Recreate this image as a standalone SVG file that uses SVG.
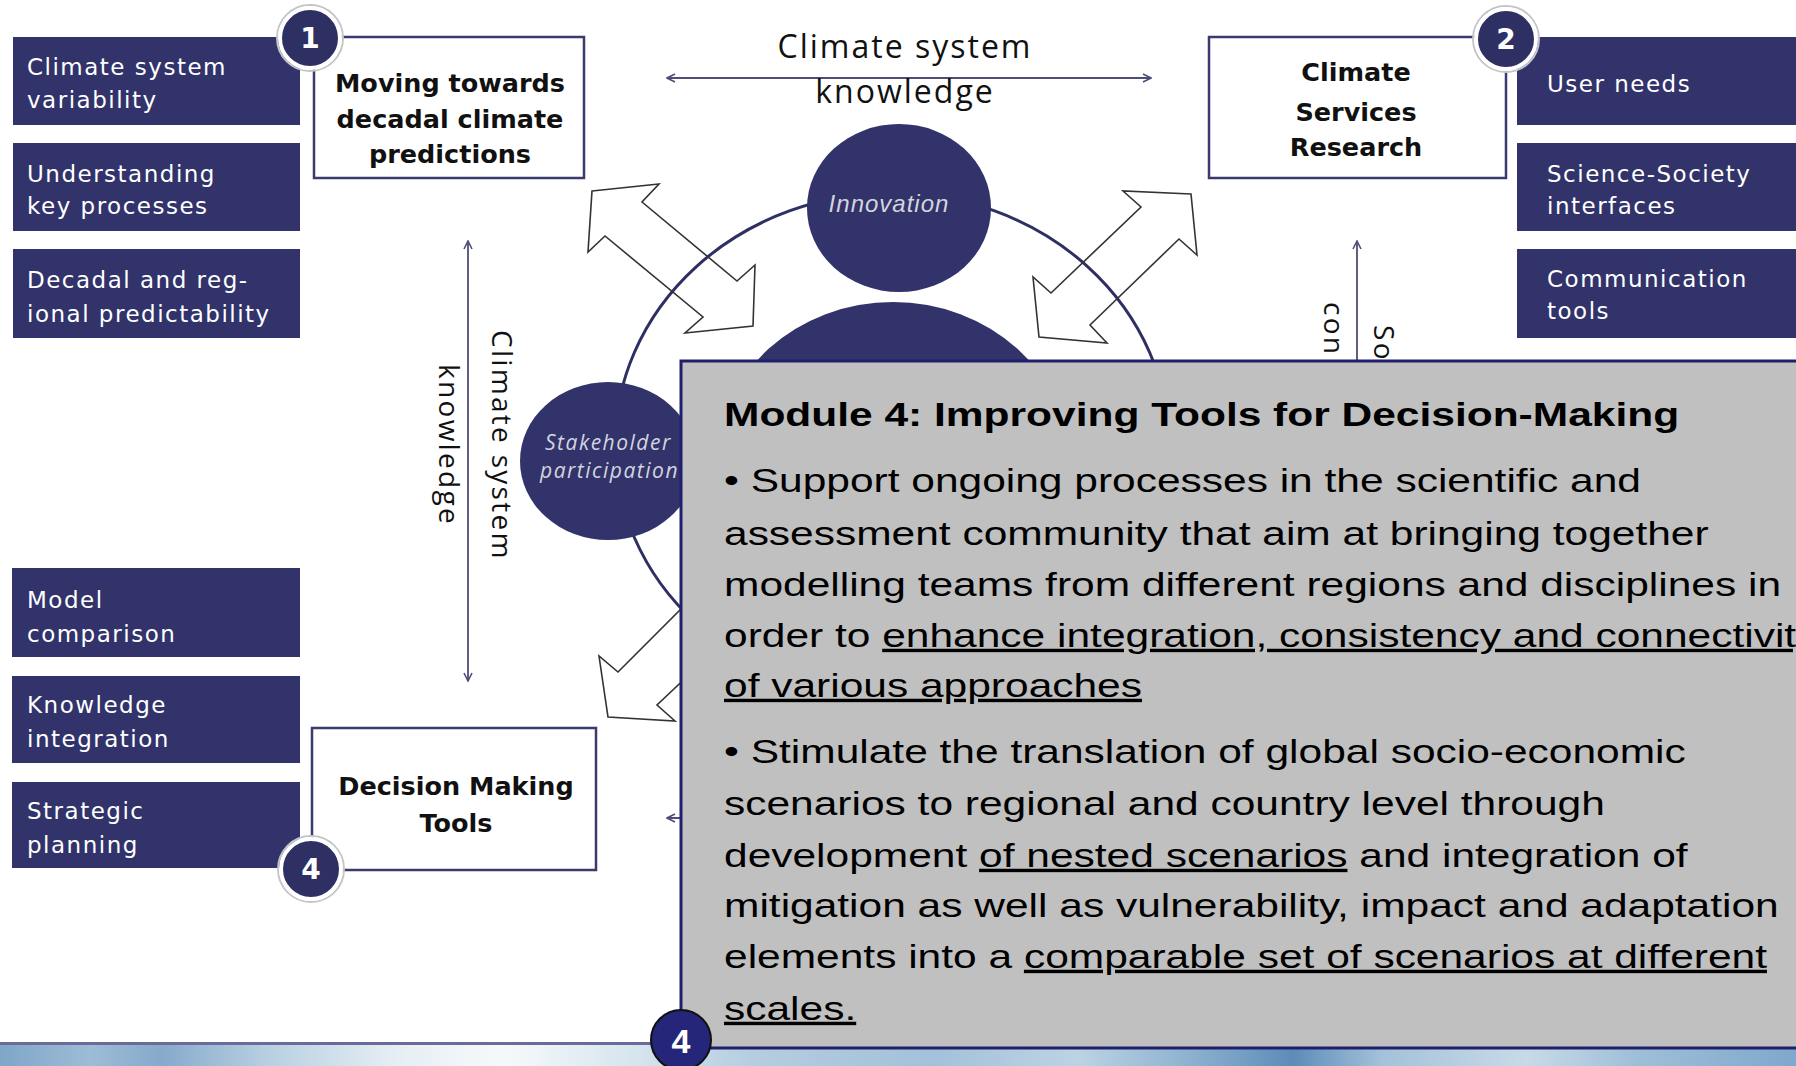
<svg xmlns="http://www.w3.org/2000/svg" width="1796" height="1066" viewBox="0 0 1796 1066">
<defs>
<style>
.nb{fill:#31336a}
.nt{font-family:"DejaVu Sans",sans-serif;font-size:23px;fill:#fff;letter-spacing:1.5px}
.wb{fill:#fff;stroke:#3a3a6e;stroke-width:2.5}
.wt{font-family:"DejaVu Sans",sans-serif;font-weight:bold;font-size:25.5px;fill:#111;text-anchor:middle}
.badge{fill:#2e3064;stroke:#fff;stroke-width:4}
.bshadow{fill:none;stroke:#c4c4cc;stroke-width:2}
.bt{font-family:"DejaVu Sans",sans-serif;font-weight:bold;font-size:28px;fill:#fff;text-anchor:middle}
.ring{fill:none;stroke:#2e3064;stroke-width:3}
.circ{fill:#31336a}
.ci{font-style:italic;fill:#d4d4de}
.conn{fill:none;stroke:#4e4e78;stroke-width:1.8}
.blk{fill:none;stroke:#333;stroke-width:1.6;stroke-linejoin:miter}
.lbl{font-family:"Open Sans",sans-serif;fill:#111}
.gt{font-family:"Liberation Sans",Arial,sans-serif;font-size:34px;fill:#000}
.u{text-decoration:underline;text-decoration-thickness:3px}
</style>
<marker id="ah" viewBox="0 0 10 10" refX="9" refY="5" markerWidth="10" markerHeight="10" markerUnits="userSpaceOnUse" orient="auto-start-reverse">
<path d="M1,1 L9,5 L1,9" fill="none" stroke="#4e4e78" stroke-width="1.6"/>
</marker>
<linearGradient id="band" x1="0" y1="0" x2="1" y2="0">
<stop offset="0" stop-color="#7fa6c8"/>
<stop offset="0.05" stop-color="#9dbcd6"/>
<stop offset="0.09" stop-color="#86aacb"/>
<stop offset="0.15" stop-color="#b8d0e2"/>
<stop offset="0.22" stop-color="#e6eef4"/>
<stop offset="0.28" stop-color="#f6f9fb"/>
<stop offset="0.35" stop-color="#d8e6ef"/>
<stop offset="0.42" stop-color="#b4cde0"/>
<stop offset="0.52" stop-color="#a3c1da"/>
<stop offset="0.6" stop-color="#bcd3e4"/>
<stop offset="0.66" stop-color="#8fb3d0"/>
<stop offset="0.72" stop-color="#5d8cb8"/>
<stop offset="0.77" stop-color="#a4c2da"/>
<stop offset="0.85" stop-color="#c8dae8"/>
<stop offset="0.91" stop-color="#9fbfd8"/>
<stop offset="1" stop-color="#7fa8cc"/>
</linearGradient>
</defs>

<rect x="0" y="0" width="1796" height="1066" fill="#fff"/>

<!-- bottom band -->
<rect x="0" y="1043" width="1796" height="23" fill="url(#band)"/>
<line x1="0" y1="1043.5" x2="700" y2="1043.5" stroke="#6b6b9b" stroke-width="3"/>

<!-- ring -->
<ellipse class="ring" cx="892" cy="445" rx="277" ry="252"/>

<!-- connectors -->
<g id="connectors">
<path class="conn" d="M667,78 L1151,78" marker-start="url(#ah)" marker-end="url(#ah)"/>
<path class="conn" d="M468,241 L468,681" marker-start="url(#ah)" marker-end="url(#ah)"/>
<path class="conn" d="M1357,400 L1357,241" marker-end="url(#ah)"/>
<path class="conn" d="M700,818 L667,818" marker-end="url(#ah)"/>
<polygon class="blk" points="592,191 659,184 642,202 737,281 755,265 753,326 685,333 703,317 605,236 588,252"/>
<polygon class="blk" points="1191,194 1123,191 1141,207 1051,293 1033,277 1039,337 1107,343 1090,325 1179,239 1197,255"/>
<polygon class="blk" points="618,672 760,530 800,570 657,705 675,721 608,717 599,656"/>
</g>

<!-- connector labels -->
<g id="labels">
<text class="lbl" x="905" y="58" font-size="32" letter-spacing="2" text-anchor="middle">Climate system</text>
<text class="lbl" x="905" y="103" font-size="32" letter-spacing="2" text-anchor="middle">knowledge</text>
<text class="lbl" font-size="28" letter-spacing="2.3" transform="translate(492,330) rotate(90)">Climate system</text>
<text class="lbl" font-size="28" letter-spacing="2.3" transform="translate(439,364) rotate(90)">knowledge</text>
<text class="lbl" font-size="28" letter-spacing="2.3" transform="translate(1374,325) rotate(90)">So</text>
<text class="lbl" font-size="28" letter-spacing="2.3" transform="translate(1324,302) rotate(90)">con</text>
</g>

<!-- circles -->
<g id="innovation">
<ellipse class="circ" cx="899" cy="208" rx="92" ry="84"/>
<text class="ci" x="889" y="212" font-family="Liberation Sans, sans-serif" font-size="24" letter-spacing="1" text-anchor="middle">Innovation</text>
</g>
<g id="core">
<ellipse class="circ" cx="893" cy="462" rx="176" ry="160"/>
</g>
<g id="stakeholder">
<ellipse class="circ" cx="608" cy="461" rx="88" ry="79"/>
<text class="ci" x="545" y="450" font-family="Open Sans, sans-serif" font-size="21" letter-spacing="1.5">Stakeholder</text>
<text class="ci" x="540" y="478" font-family="Open Sans, sans-serif" font-size="21" letter-spacing="1.5">participation</text>
</g>

<!-- left navy boxes -->
<g id="l1"><rect class="nb" x="13" y="37" width="287" height="88"/><text class="nt" x="27" y="75">Climate system</text><text class="nt" x="27" y="108">variability</text></g>
<g id="l2"><rect class="nb" x="13" y="143" width="287" height="88"/><text class="nt" x="27" y="182">Understanding</text><text class="nt" x="27" y="214">key processes</text></g>
<g id="l3"><rect class="nb" x="13" y="249" width="287" height="89"/><text class="nt" x="27" y="288">Decadal and reg-</text><text class="nt" x="27" y="322">ional predictability</text></g>
<g id="l4"><rect class="nb" x="12" y="568" width="288" height="89"/><text class="nt" x="27" y="608">Model</text><text class="nt" x="27" y="642">comparison</text></g>
<g id="l5"><rect class="nb" x="12" y="676" width="288" height="87"/><text class="nt" x="27" y="713">Knowledge</text><text class="nt" x="27" y="747">integration</text></g>
<g id="l6"><rect class="nb" x="12" y="782" width="288" height="86"/><text class="nt" x="27" y="819">Strategic</text><text class="nt" x="27" y="853">planning</text></g>

<!-- right navy boxes -->
<g id="r1"><rect class="nb" x="1517" y="37" width="290" height="88"/><text class="nt" x="1547" y="92">User needs</text></g>
<g id="r2"><rect class="nb" x="1517" y="143" width="290" height="88"/><text class="nt" x="1547" y="182">Science-Society</text><text class="nt" x="1547" y="214">interfaces</text></g>
<g id="r3"><rect class="nb" x="1517" y="249" width="290" height="89"/><text class="nt" x="1547" y="287">Communication</text><text class="nt" x="1547" y="319">tools</text></g>

<!-- white module boxes -->
<g id="m1"><rect class="wb" x="314" y="37" width="270" height="141"/>
<text class="wt" x="450" y="92">Moving towards</text><text class="wt" x="450" y="128">decadal climate</text><text class="wt" x="450" y="163">predictions</text></g>
<g id="m2"><rect class="wb" x="1209" y="37" width="297" height="141"/>
<text class="wt" x="1356" y="81">Climate</text><text class="wt" x="1356" y="121">Services</text><text class="wt" x="1356" y="156">Research</text></g>
<g id="m4"><rect class="wb" x="312" y="728" width="284" height="142"/>
<text class="wt" x="456" y="795">Decision Making</text><text class="wt" x="456" y="832">Tools</text></g>

<!-- badges -->
<g id="b1"><circle class="bshadow" cx="310" cy="38" r="33"/><circle class="badge" cx="310" cy="38" r="30"/><text class="bt" x="310" y="48">1</text></g>
<g id="b2"><circle class="bshadow" cx="1506" cy="39" r="33"/><circle class="badge" cx="1506" cy="39" r="30"/><text class="bt" x="1506" y="49">2</text></g>
<g id="b4"><circle class="bshadow" cx="311" cy="869" r="33"/><circle class="badge" cx="311" cy="869" r="30"/><text class="bt" x="311" y="879">4</text></g>

<!-- grey module panel -->
<g id="panel">
<rect x="681" y="361" width="1130" height="687" fill="#c0c0c0" stroke="#1f1f6b" stroke-width="3"/>
<g transform="translate(724,0) scale(1.25,1)">
<text class="gt" x="0" y="426" font-weight="bold">Module 4: Improving Tools for Decision-Making</text>
<text class="gt" x="0" y="492">• Support ongoing processes in the scientific and</text>
<text class="gt" x="0" y="545">assessment community that aim at bringing together</text>
<text class="gt" x="0" y="596">modelling teams from different regions and disciplines in</text>
<text class="gt" x="0" y="647">order to <tspan class="u">enhance integration, consistency and connectivity</tspan></text>
<text class="gt" x="0" y="697"><tspan class="u">of various approaches</tspan></text>
<text class="gt" x="0" y="763">• Stimulate the translation of global socio-economic</text>
<text class="gt" x="0" y="815">scenarios to regional and country level through</text>
<text class="gt" x="0" y="867">development <tspan class="u">of nested scenarios</tspan> and integration of</text>
<text class="gt" x="0" y="917">mitigation as well as vulnerability, impact and adaptation</text>
<text class="gt" x="0" y="968">elements into a <tspan class="u">comparable set of scenarios at different</tspan></text>
<text class="gt" x="0" y="1020"><tspan class="u">scales.</tspan></text>
</g>
</g>

<g id="b4b"><circle cx="681" cy="1040" r="30" fill="#25267a" stroke="#111" stroke-width="2"/><text x="681" y="1053" font-family="Liberation Sans, sans-serif" font-weight="bold" font-size="34" fill="#fff" text-anchor="middle">4</text></g>
</svg>
